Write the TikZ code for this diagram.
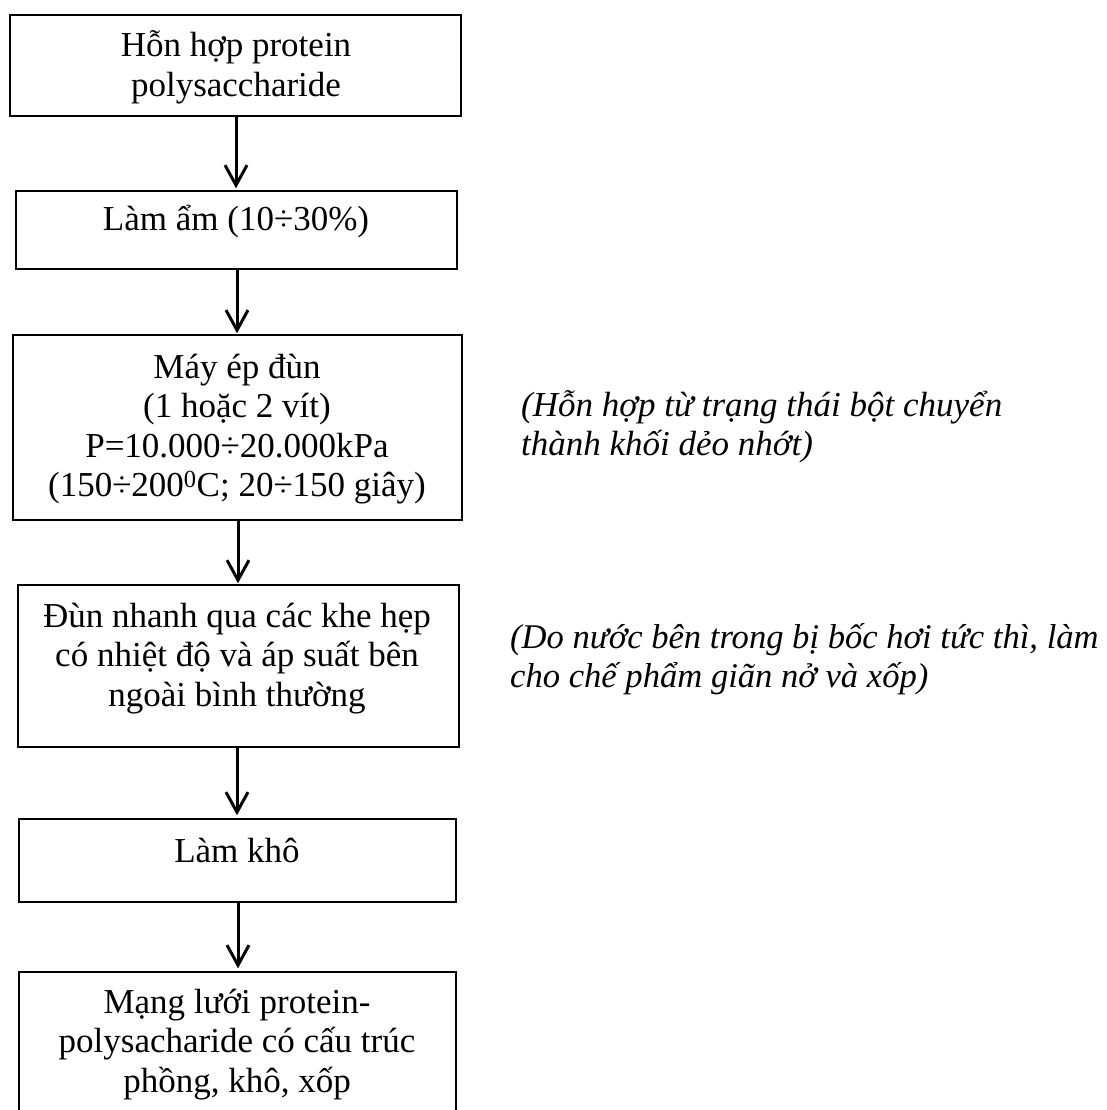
\documentclass[tikz,border=0pt]{standalone}
\usepackage{fontspec}
\setmainfont{Liberation Serif}
\usetikzlibrary{arrows.meta}
\newcommand{\mltext}[1]{\begin{tabular}[t]{@{}c@{}}#1\end{tabular}}
\newcommand{\mlleft}[1]{\begin{tabular}[t]{@{}l@{}}#1\end{tabular}}
\begin{document}
\begin{tikzpicture}[x=1pt,y=-1pt,
  stepbox/.style={draw=black, line width=1.5pt, rectangle, inner sep=0pt},
  boxtext/.style={anchor=base, inner sep=0pt, font=\fontsize{35}{39.5}\selectfont},
  sidetext/.style={anchor=base west, inner sep=0pt, font=\fontsize{35}{39.5}\selectfont\itshape},
  flow/.style={line width=3pt, -{Straight Barb[length=20pt,width=22pt,line width=3pt]}}]
\useasboundingbox (0,0) rectangle (1107,1110);
\fill[white] (0,0) rectangle (1107,1110);
% boxes
\node[stepbox, minimum width=451pt, minimum height=101pt] (b1) at (235.5,65.5) {};
\node[stepbox, minimum width=441pt, minimum height=78pt] (b2) at (236.5,230) {};
\node[stepbox, minimum width=449pt, minimum height=185pt] (b3) at (237.5,427.5) {};
\node[stepbox, minimum width=441pt, minimum height=162pt] (b4) at (238.5,666) {};
\node[stepbox, minimum width=437pt, minimum height=83pt] (b5) at (237.5,860.5) {};
\node[stepbox, minimum width=437pt, minimum height=142pt] (b6) at (237.5,1043) {};
% texts
\node[boxtext] (t1) at (236,57) {\mltext{Hỗn hợp protein\\polysaccharide}};
\node[boxtext] (t2) at (236,230) {\mltext{Làm ẩm (10÷30\%)}};
\node[boxtext] (t3) at (237,378) {\mltext{Máy ép đùn\\(1 hoặc 2 vít)\\P=10.000÷20.000kPa\\(150÷200\textsuperscript{0}C; 20÷150 giây)}};
\node[boxtext] (t4) at (237,627) {\mltext{Đùn nhanh qua các khe hẹp\\có nhiệt độ và áp suất bên\\ngoài bình thường}};
\node[boxtext] (t5) at (237,862) {\mltext{Làm khô}};
\node[boxtext] (t6) at (237,1013) {\mltext{Mạng lưới protein-\\polysacharide có cấu trúc\\phồng, khô, xốp}};
\node[sidetext] (n1) at (521,416) {\mlleft{(Hỗn hợp từ trạng thái bột chuyển\\thành khối dẻo nhớt)}};
\node[sidetext, font=\fontsize{34.6}{39.5}\selectfont\itshape] (n2) at (510,648) {\mlleft{(Do nước bên trong bị bốc hơi tức thì, làm\\cho chế phẩm giãn nở và xốp)}};
% arrows
\draw[flow] (b1.south -| 236,0) -- ([yshift=2pt]b2.north -| 236,0);
\draw[flow] (b2.south -| 237,0) -- ([yshift=1pt]b3.north -| 237,0);
\draw[flow] (b3.south -| 238,0) -- ([yshift=1pt]b4.north -| 238,0);
\draw[flow] (b4.south -| 237,0) -- ([yshift=3pt]b5.north -| 237,0);
\draw[flow] (b5.south -| 238,0) -- ([yshift=3pt]b6.north -| 238,0);
\end{tikzpicture}
\end{document}
